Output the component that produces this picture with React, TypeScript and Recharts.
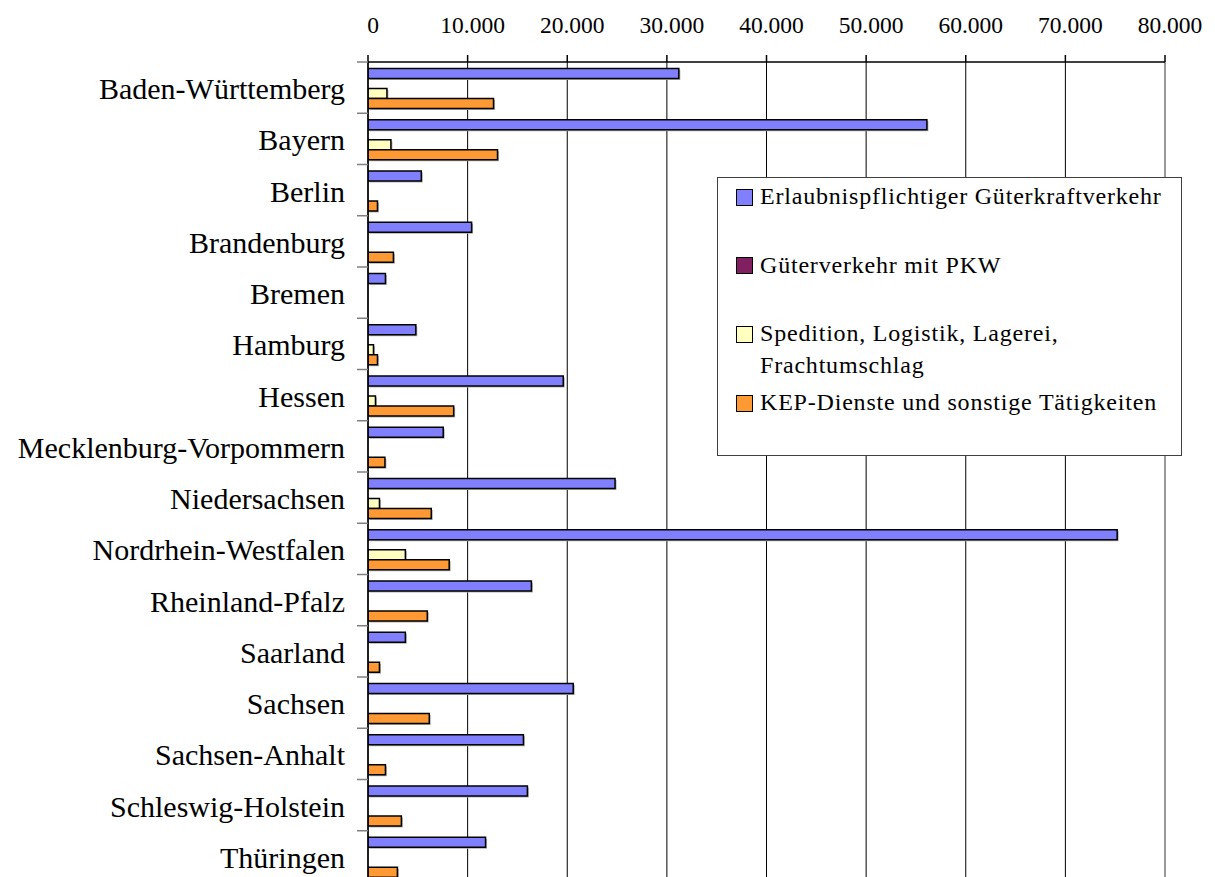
import React from 'react';
import { BarChart, Bar, XAxis, YAxis, CartesianGrid, Legend, ReferenceLine, Rectangle } from 'recharts';

const categories = [
  'Baden-Württemberg',
  'Bayern',
  'Berlin',
  'Brandenburg',
  'Bremen',
  'Hamburg',
  'Hessen',
  'Mecklenburg-Vorpommern',
  'Niedersachsen',
  'Nordrhein-Westfalen',
  'Rheinland-Pfalz',
  'Saarland',
  'Sachsen',
  'Sachsen-Anhalt',
  'Schleswig-Holstein',
  'Thüringen',
];

const erlaubnispflichtig = [31200, 56100, 5350, 10400, 1750, 4800, 19600, 7550, 24800, 75200, 16400, 3750, 20600, 15600, 16000, 11800];
const pkwVerkehr = [0, 0, 0, 0, 0, 0, 0, 0, 0, 0, 0, 0, 0, 0, 0, 0];
const spedition = [1900, 2300, 0, 0, 0, 550, 750, 0, 1150, 3750, 0, 0, 0, 0, 0, 0];
const kepDienste = [12600, 13000, 950, 2550, 0, 950, 8600, 1700, 6350, 8150, 5950, 1150, 6150, 1750, 3350, 2950];

const xTicks = [0, 10000, 20000, 30000, 40000, 50000, 60000, 70000, 80000];

const seriesOrder = [
  'Erlaubnispflichtiger Güterkraftverkehr',
  'Güterverkehr mit PKW',
  'Spedition, Logistik, Lagerei, Frachtumschlag',
  'KEP-Dienste und sonstige Tätigkeiten',
];

const data = categories.map((name, i) => ({
  name,
  erlaubnis: erlaubnispflichtig[i],
  pkw: pkwVerkehr[i],
  spedition: spedition[i],
  kep: kepDienste[i],
}));

const FONT = 'Liberation Serif, Times New Roman, serif';
const W = 1215;
const H = 890;
const MARGIN = { top: 0, right: 50, bottom: 8, left: 0 };
const X_AXIS_H = 62;
const Y_AXIS_W = 368;
const PLOT_H = H - MARGIN.top - MARGIN.bottom - X_AXIS_H;

const fmt = (v: number) => String(v).replace(/\B(?=(\d{3})+(?!\d))/g, '.');

const XTick = (props: any) => {
  const { x, y, payload } = props;
  return (
    <text x={x + 5} y={y} textAnchor="middle" fontSize={23.5} fontFamily={FONT} fill="#000">
      {fmt(payload.value)}
    </text>
  );
};

const YTick = (props: any) => {
  const { x, y, payload } = props;
  const band = PLOT_H / categories.length;
  return (
    <g>
      <line x1={Y_AXIS_W - 11} x2={Y_AXIS_W} y1={y - band / 2} y2={y - band / 2} stroke="#808080" strokeWidth={1.5} />
      <text x={x} y={y + 11.5} textAnchor="end" fontSize={30} fontFamily={FONT} fill="#000">
        {payload.value}
      </text>
    </g>
  );
};

const ShadowBar = (props: any) => {
  const { x, y, width, height, fill } = props;
  if (!width || !height) return null;
  return (
    <g>
      <rect x={x + 1.5} y={y + 1.5} width={width} height={height} fill="#b0b0b0" />
      <Rectangle x={x} y={y} width={width} height={height} fill={fill} stroke="#000" strokeWidth={1.5} />
    </g>
  );
};

const renderLegend = (props: any) => {
  const payload = [...(props.payload || [])].sort(
    (a: any, b: any) => seriesOrder.indexOf(a.value) - seriesOrder.indexOf(b.value)
  );
  return (
    <div
      style={{
        position: 'relative',
        width: 465,
        height: 279,
        boxSizing: 'border-box',
        border: '1px solid #404040',
        background: '#fff',
        fontFamily: FONT,
        fontSize: 24,
        letterSpacing: 0.8,
        color: '#000',
      }}
    >
      {payload.map((entry: any, i: number) => (
        <div key={entry.value} style={{ position: 'absolute', left: 0, top: 2 + i * 68.7, width: 463 }}>
          <div
            style={{
              position: 'absolute',
              left: 18,
              top: 8.5,
              width: 17,
              height: 17,
              boxSizing: 'border-box',
              border: '1.5px solid #000',
              background: entry.color,
            }}
          />
          <div style={{ position: 'absolute', left: 42, top: 0, width: 416, lineHeight: '32px', whiteSpace: 'normal', fontFamily: FONT }}>
            {entry.value}
          </div>
        </div>
      ))}
    </div>
  );
};

export default function App() {
  return (
    <div style={{ position: 'fixed', left: 0, top: 0, width: W, height: 877, overflow: 'hidden', background: '#fff' }}>
      <BarChart
        width={W}
        height={H}
        data={data}
        layout="vertical"
        margin={MARGIN}
        barCategoryGap="12.7%"
        barGap={0}
      >
        <CartesianGrid vertical horizontal={false} stroke="#000" strokeWidth={1} />
        <XAxis
          type="number"
          orientation="top"
          domain={[0, 80000]}
          ticks={xTicks}
          interval={0}
          height={X_AXIS_H}
          tickSize={7}
          tickMargin={22}
          axisLine={{ stroke: '#000', strokeWidth: 1.5 }}
          tickLine={{ stroke: '#000', strokeWidth: 1.5 }}
          tick={<XTick />}
          allowDataOverflow
        />
        <YAxis
          type="category"
          dataKey="name"
          width={Y_AXIS_W}
          interval={0}
          tickSize={0}
          tickMargin={23}
          axisLine={{ stroke: '#000', strokeWidth: 1.5 }}
          tickLine={false}
          tick={<YTick />}
        />
        <ReferenceLine x={80000} stroke="#999" strokeWidth={2} />
        <Bar dataKey="erlaubnis" name={seriesOrder[0]} fill="#8080FF" stroke="#000" strokeWidth={1.5} shape={ShadowBar} isAnimationActive={false} />
        <Bar dataKey="pkw" name={seriesOrder[1]} fill="#802060" stroke="#000" strokeWidth={1.5} shape={ShadowBar} isAnimationActive={false} />
        <Bar dataKey="spedition" name={seriesOrder[2]} fill="#FFFFC0" stroke="#000" strokeWidth={1.5} shape={ShadowBar} isAnimationActive={false} />
        <Bar dataKey="kep" name={seriesOrder[3]} fill="#FF9933" stroke="#000" strokeWidth={1.5} shape={ShadowBar} isAnimationActive={false} />
        <Legend
          layout="vertical"
          align="center"
          verticalAlign="middle"
          content={renderLegend}
          wrapperStyle={{ position: 'absolute', left: 717, top: 177, width: 465, height: 279 }}
        />
      </BarChart>
    </div>
  );
}
